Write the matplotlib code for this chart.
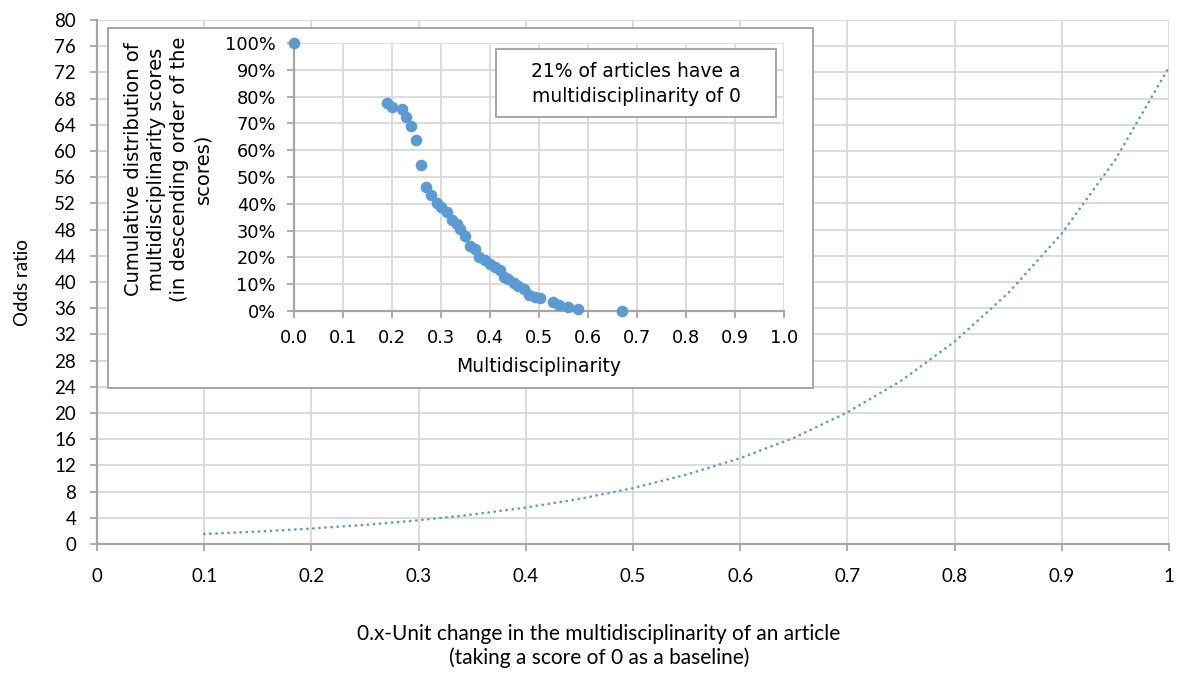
import matplotlib
matplotlib.use('Agg')
import matplotlib.pyplot as plt
from matplotlib.patches import Rectangle
from matplotlib.ticker import FuncFormatter, PercentFormatter

# main chart: odds ratio for a 0.x unit change
unit_change = [0.10, 0.15, 0.20, 0.25, 0.30, 0.35, 0.40, 0.45, 0.50, 0.55,
               0.60, 0.65, 0.70, 0.75, 0.80, 0.85, 0.90, 0.95, 1.00]
odds_ratio = [1.53, 1.90, 2.36, 2.92, 3.62, 4.49, 5.56, 6.89, 8.53, 10.6,
              13.1, 16.2, 20.1, 24.9, 30.9, 38.3, 47.4, 58.7, 72.8]

# inset: cumulative distribution of multidisciplinarity scores
multi_score = [0.0, 0.190, 0.201, 0.221, 0.228, 0.238, 0.249, 0.259, 0.269, 0.280,
               0.291, 0.301, 0.312, 0.322, 0.332, 0.339, 0.349, 0.359, 0.369, 0.378,
               0.390, 0.400, 0.410, 0.420, 0.429, 0.437, 0.448, 0.458, 0.469, 0.480,
               0.492, 0.502, 0.528, 0.541, 0.560, 0.580, 0.670]
cum_share = [1.000, 0.776, 0.763, 0.755, 0.723, 0.692, 0.639, 0.544, 0.464, 0.432,
             0.402, 0.387, 0.371, 0.340, 0.325, 0.305, 0.281, 0.244, 0.232, 0.203,
             0.191, 0.176, 0.163, 0.153, 0.128, 0.118, 0.106, 0.093, 0.082, 0.060,
             0.054, 0.047, 0.035, 0.022, 0.016, 0.006, 0.000]

blue = '#5B9BD5'
grid_c = '#D9D9D9'
axis_c = '#A6A6A6'
main_font = 'Lato'
inset_font = 'DejaVu Sans'

fig = plt.figure(figsize=(11.8, 6.73), dpi=100)
W, H = 1180, 673


def px_box(x0, y0, x1, y1):
    # pixel box (top-left origin) -> figure fraction rect
    return [x0 / W, 1 - y1 / H, (x1 - x0) / W, (y1 - y0) / H]


ax = fig.add_axes(px_box(97, 20, 1169, 544))
ax.plot(unit_change, odds_ratio, color=blue, lw=1.9,
        linestyle=(0, (0.1, 2.2)), dash_capstyle='round')
ax.set_xlim(0, 1)
ax.set_ylim(0, 80)
ax.set_xticks([i / 10 for i in range(11)])
ax.set_yticks(range(0, 81, 4))
ax.xaxis.set_major_formatter(FuncFormatter(lambda v, p: '%g' % round(v, 1)))
ax.grid(True, color=grid_c, lw=1.3)
ax.set_axisbelow(True)
for s in ['top', 'right']:
    ax.spines[s].set_visible(False)
for s in ['left', 'bottom']:
    ax.spines[s].set_color(axis_c)
    ax.spines[s].set_linewidth(1.6)
ax.tick_params(axis='both', direction='out', length=5, width=1.3, color=axis_c,
               labelsize=13.5, labelcolor='black')
ax.tick_params(axis='y', pad=10)
ax.tick_params(axis='x', pad=12)
for lab in ax.get_xticklabels() + ax.get_yticklabels():
    lab.set_fontfamily(main_font)

fig.text(22 / W, 1 - 283 / H, 'Odds ratio', rotation=90, ha='center', va='center',
         fontsize=13.5, family=main_font)
fig.text(599 / W, 1 - 646 / H,
         '0.x-Unit change in the multidisciplinarity of an article\n(taking a score of 0 as a baseline)',
         ha='center', va='center', fontsize=15, family=main_font, linespacing=1.25)

# inset chart area frame
frame = Rectangle((108 / W, 1 - 388 / H), (813 - 108) / W, (388 - 28) / H,
                  transform=fig.transFigure, facecolor='white', edgecolor=axis_c,
                  lw=1.4, zorder=1)
fig.patches.append(frame)

ins = fig.add_axes(px_box(294, 43, 784, 311), zorder=2)
ins.scatter(multi_score, cum_share, s=70, color=blue, zorder=3, clip_on=False,
            linewidths=0)
ins.set_xlim(0, 1)
ins.set_ylim(0, 1)
ins.set_xticks([i / 10 for i in range(11)])
ins.set_yticks([i / 10 for i in range(11)])
ins.xaxis.set_major_formatter(FuncFormatter(lambda v, p: '%.1f' % v))
ins.yaxis.set_major_formatter(PercentFormatter(1.0, decimals=0))
ins.grid(True, color=grid_c, lw=1.3)
ins.set_axisbelow(True)
for s in ['top', 'right']:
    ins.spines[s].set_visible(False)
for s in ['left', 'bottom']:
    ins.spines[s].set_color(axis_c)
    ins.spines[s].set_linewidth(1.6)
ins.tick_params(axis='both', direction='out', length=5, width=1.3, color=axis_c,
                labelsize=12.8, labelcolor='black')
ins.tick_params(axis='y', pad=8)
ins.tick_params(axis='x', pad=8)
for lab in ins.get_xticklabels() + ins.get_yticklabels():
    lab.set_fontfamily(inset_font)
ins.set_xlabel('Multidisciplinarity', fontsize=13.5, family=inset_font, labelpad=7)

fig.text(168 / W, 1 - 169 / H,
         'Cumulative distribution of\nmultidisciplinarity scores\n(in descending order of the\nscores)',
         rotation=90, ha='center', va='center', multialignment='center',
         fontsize=14, family=inset_font, linespacing=1.27, zorder=3)

# note box
ins.add_patch(Rectangle((0.412, 0.724), 0.572, 0.255, transform=ins.transData,
                        facecolor='white', edgecolor=axis_c, lw=1.4, zorder=4))
ins.text(0.698, 0.848, '21% of articles have a\nmultidisciplinarity of 0',
         ha='center', va='center', fontsize=13.5, family=inset_font,
         linespacing=1.4, zorder=5)

fig.savefig('out.png', dpi=100)
